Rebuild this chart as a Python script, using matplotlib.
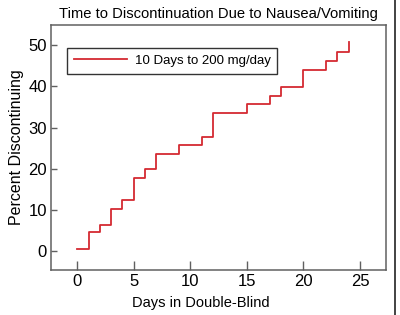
import matplotlib
matplotlib.use("Agg")
import matplotlib.pyplot as plt
from matplotlib.lines import Line2D

plt.rcParams['font.family'] = ['Liberation Sans', 'DejaVu Sans']

# step data
days = [0, 1, 2, 3, 4, 5, 6, 7, 9, 11, 12, 15, 17, 18, 20, 22, 23, 24]
percent = [0.6, 4.5, 6.3, 10.1, 12.3, 17.7, 19.9, 23.6, 25.7, 27.7,
           33.6, 35.8, 37.8, 39.9, 44.1, 46.2, 48.3, 50.7]
series_label = '10 Days to 200 mg/day'
x_ticks = [0, 5, 10, 15, 20, 25]
y_ticks = [0, 10, 20, 30, 40, 50]

fig = plt.figure(figsize=(4, 3.15), dpi=100)
ax = fig.add_axes([0.1275, 0.1429, 0.8375, 0.7777])

ax.plot(days, percent, drawstyle='steps-post', color='#d42a32', lw=1.3,
        label=series_label)

ax.set_xlim(-2.32, 27.3)
ax.set_ylim(-4.62, 54.95)
ax.set_xticks(x_ticks)
ax.set_yticks(y_ticks)

for s in ax.spines.values():
    s.set_color('#606060')
    s.set_linewidth(1.1)
ax.tick_params(axis='x', direction='in', length=6.5, width=1, color='#606060',
               labelsize=12, pad=3)
ax.tick_params(axis='y', direction='in', length=4.3, width=1, color='#606060',
               labelsize=12, pad=3)

ax.set_title('Time to Discontinuation Due to Nausea/Vomiting', fontsize=10.6, pad=5)
ax.set_xlabel('Days in Double-Blind', fontsize=10.5, labelpad=3)
ax.xaxis.set_label_coords(0.446, -0.105)
ax.set_ylabel('Percent Discontinuing', fontsize=11.5, labelpad=3)

leg = ax.legend(loc='upper left', bbox_to_anchor=(0.0487, 0.905),
                borderaxespad=0, fontsize=9.5, fancybox=False, framealpha=1,
                handlelength=4, handletextpad=0.6, borderpad=0.5)
leg.get_frame().set_edgecolor('#333333')
leg.get_frame().set_linewidth(1.0)

# dark border line at the right edge of the image
fig.add_artist(Line2D([0.988, 0.988], [0, 1], transform=fig.transFigure,
                      color='#222222', lw=1.2))

fig.savefig('out.png', dpi=100)
